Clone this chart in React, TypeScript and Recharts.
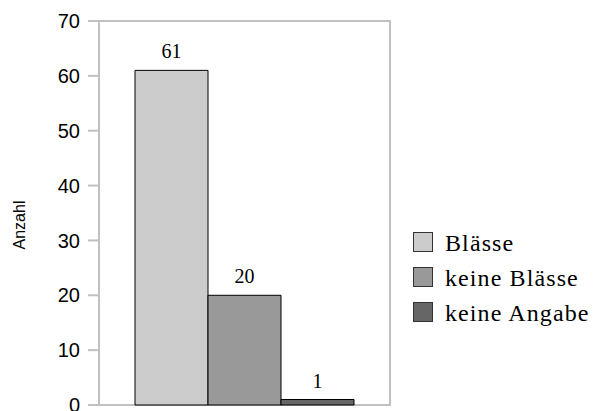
import React from "react"
import { BarChart, Bar, XAxis, YAxis, Legend, LabelList, ReferenceArea } from "recharts"

const categories = [""]
const seriesNames = ["Blässe", "keine Blässe", "keine Angabe"]
const seriesValues = [61, 20, 1]
const seriesColors = ["#cccccc", "#999999", "#666666"]
const yTicks = [0, 10, 20, 30, 40, 50, 60, 70]
const yTitle = "Anzahl"

const data = categories.map((name) => {
  const row: Record<string, string | number> = { name }
  seriesNames.forEach((s, i) => {
    row[s] = seriesValues[i]
  })
  return row
})

const AXIS_GRAY = "#c0c0c0"
const SANS = "Liberation Sans, Arial, sans-serif"
const SERIF = "Liberation Serif, Times New Roman, serif"

// legend drawn as svg so it uses the same serif face as the value labels
const LegendContent = () => (
  <svg width={181} height={105}>
    {seriesNames.map((s, i) => (
      <g key={s} transform={`translate(0, ${i * 35})`}>
        <rect x={0.5} y={7.5} width={19} height={19} fill={seriesColors[i]} stroke="#333" />
        <text
          x={32}
          y={26}
          fill="#000"
          fontSize={24}
          letterSpacing={1.1}
          style={{ fontFamily: SERIF }}
        >
          {s}
        </text>
      </g>
    ))}
  </svg>
)

const YTitle = () => (
  <text
    x={25}
    y={225}
    transform="rotate(-90, 25, 225)"
    textAnchor="middle"
    fill="#000"
    fontSize={16}
    fontFamily={SANS}
  >
    {yTitle}
  </text>
)

export default function App() {
  return (
    <div style={{ position: "absolute", left: 0, top: 0, background: "#fff" }}>
      <BarChart
        width={594}
        height={411}
        data={data}
        margin={{ top: 21, right: 204, bottom: 6, left: 0 }}
        barGap={0}
        barCategoryGap={36}
      >
        <XAxis
          dataKey="name"
          tick={false}
          tickLine={false}
          height={0}
          axisLine={{ stroke: AXIS_GRAY, strokeWidth: 2 }}
        />
        <YAxis
          domain={[0, 70]}
          ticks={yTicks}
          interval={0}
          width={99}
          tickSize={11}
          tickMargin={8}
          axisLine={{ stroke: AXIS_GRAY, strokeWidth: 2 }}
          tickLine={{ stroke: AXIS_GRAY, strokeWidth: 2 }}
          tick={{ fill: "#000", fontSize: 20, fontFamily: SANS }}
          label={<YTitle />}
        />
        <ReferenceArea
          y1={0}
          y2={70}
          fill="none"
          stroke={AXIS_GRAY}
          strokeWidth={2}
          ifOverflow="visible"
        />
        <Legend
          layout="vertical"
          align="center"
          verticalAlign="middle"
          content={<LegendContent />}
          wrapperStyle={{ left: 413, top: 225, width: 181 }}
        />
        {seriesNames.map((s, i) => (
          <Bar
            key={s}
            dataKey={s}
            fill={seriesColors[i]}
            stroke="#000"
            strokeWidth={1}
            isAnimationActive={false}
          >
            <LabelList
              dataKey={s}
              position="top"
              offset={12}
              style={{ fill: "#000", fontSize: 20, fontFamily: SERIF }}
            />
          </Bar>
        ))}
      </BarChart>
    </div>
  )
}
